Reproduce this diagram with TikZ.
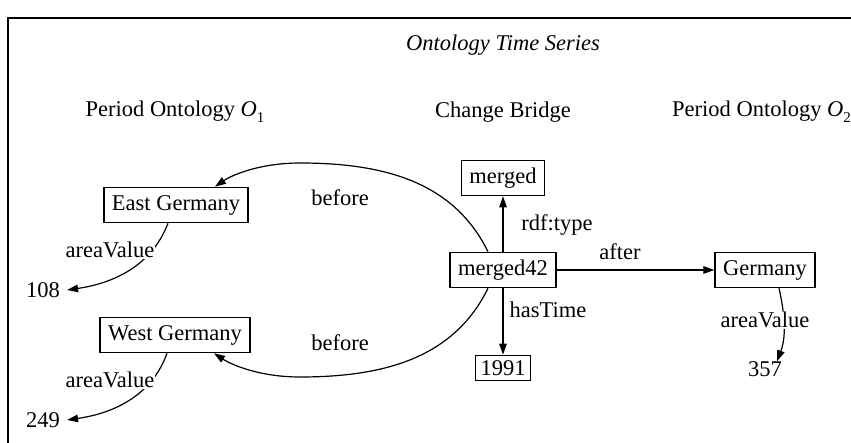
\documentclass[tikz,border=0pt]{standalone}
\usepackage{fontspec}
\setmainfont{Liberation Serif}[Ligatures=TeX]
\newfontfamily\termsfont{Liberation Serif}
\usetikzlibrary{arrows.meta}
\tikzset{
  lbl/.style={font=\termsfont\fontsize{22.5}{27}\selectfont, inner sep=0pt},
  box/.style={lbl, draw, line width=1.6pt, inner xsep=8pt, minimum height=35pt},
  smallbox/.style={lbl, draw, line width=1.6pt, inner xsep=5pt, minimum height=25pt},
  val/.style={lbl, inner xsep=7pt},
  elabel/.style={lbl, fill=white, inner sep=1pt},
  edge/.style={line width=1.2pt, -{Triangle[length=11pt,width=7.5pt]}}
}
\begin{document}
\begin{tikzpicture}[x=1pt,y=-1pt]
  \clip (0,0) rectangle (851,443);
  \useasboundingbox (0,0) rectangle (851,443);
  % frame
  \draw[line width=2pt] (8,460) -- (8,18) -- (870,18);

  % headings
  \node[lbl] (title) at (503,45) {\itshape Ontology Time Series};
  \node[lbl] (hleft) at (175,112) {Period Ontology {\itshape O}\raisebox{-0.25em}{\fontsize{15}{18}\selectfont 1}};
  \node[lbl] (hmid) at (503,112) {Change Bridge};
  \node[lbl, anchor=west] (hright) at (672,112) {Period Ontology {\itshape O}\raisebox{-0.25em}{\fontsize{15}{18}\selectfont 2}};

  % nodes
  \node[box] (eg) at (176,205) {East Germany};
  \node[box] (wg) at (175,335) {West Germany};
  \node[box] (mg) at (503,178) {merged};
  \node[box] (m42) at (503,270) {merged42};
  \node[box] (ger) at (765,270) {Germany};
  \node[smallbox] (y91) at (503,368) {1991};
  \node[val] (v108) at (43,290) {108};
  \node[val] (v249) at (43,420) {249};
  \node[val] (v357) at (765,369) {357};

  % connectors
  \draw[edge] (m42) -- (mg);
  \draw[edge] (m42) -- (y91);
  \draw[edge] (m42) -- (ger);
  \draw[edge] ([xshift=-15pt]m42.north) .. controls (455,185) and (390,163) .. (300,163)
    .. controls (260,163) and (232,175) .. ([xshift=39pt]eg.north);
  \draw[edge] ([xshift=-15pt]m42.south) .. controls (455,355) and (390,377) .. (300,377)
    .. controls (260,377) and (232,365) .. ([xshift=39pt]wg.south);
  \draw[edge] ([xshift=-8pt]eg.south) .. controls (152,265) and (115,283) .. (v108.east);
  \draw[edge] ([xshift=-8pt]wg.south) .. controls (152,395) and (115,413) .. (v249.east);
  \draw[edge] ([xshift=14pt]ger.south) .. controls (784,310) and (787,335) .. ([xshift=12pt]v357.north);

  % connector labels
  \node[lbl] (lb1) at (340,198) {before};
  \node[lbl] (lb2) at (340,343) {before};
  \node[lbl] (lrdf) at (557,225) {rdf:type};
  \node[lbl] (lhas) at (548,310) {hasTime};
  \node[lbl] (laft) at (620,252) {after};
  \node[elabel] (la1) at (110,250) {areaValue};
  \node[elabel] (la2) at (110,380) {areaValue};
  \node[elabel] (la3) at (765,320) {areaValue};
\end{tikzpicture}
\end{document}
